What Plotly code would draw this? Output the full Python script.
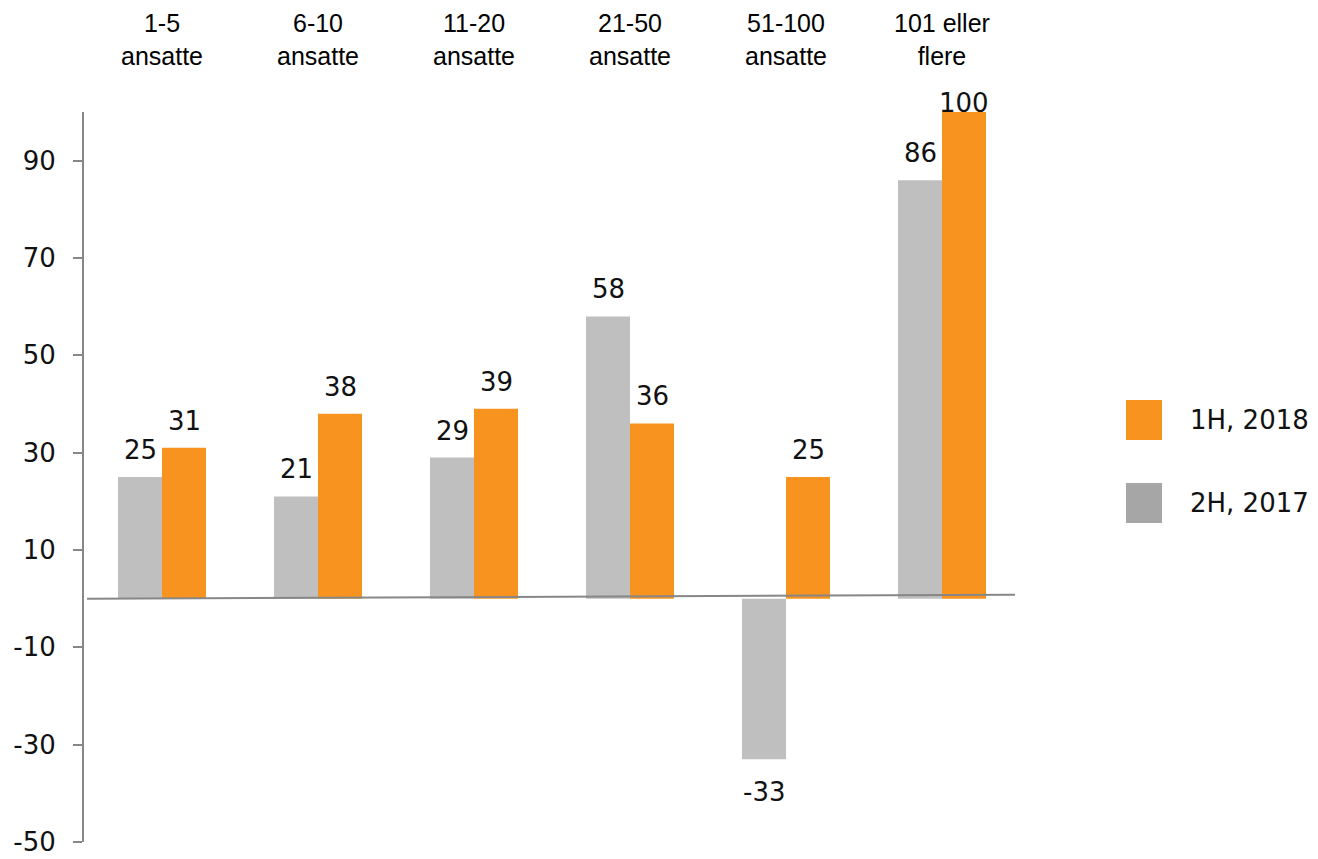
import plotly.graph_objects as go

categories = ["1-5<br>ansatte", "6-10<br>ansatte", "11-20<br>ansatte", "21-50<br>ansatte", "51-100<br>ansatte", "101 eller<br>flere"]
h2_2017 = [25, 21, 29, 58, -33, 86]
h1_2018 = [31, 38, 39, 36, 25, 100]
series_names = ["1H, 2018", "2H, 2017"]
y_ticks = [90, 70, 50, 30, 10, -10, -30, -50]
y_ticktext = ["90", "70", "50", "30", "10", "-10", "-30", "-50"]

ORANGE = "#F7931E"
GRAY_BAR = "#BFBFBF"
GRAY_LEG = "#A6A6A6"
AXIS = "#878787"
NUMFONT = "DejaVu Sans"
CATFONT = "Liberation Sans"

# the page body adds an 8 px margin; the figure is sized to fit the viewport
OFF = 8
W, H = 1318 - OFF, 859 - OFF
L, T = 84 - OFF, 112 - OFF
PW, PH = 936, 730
BOTTOM = 112 + PH  # page y of the plot bottom

x_idx = list(range(len(categories)))

fig = go.Figure()
fig.add_trace(go.Bar(x=x_idx, y=h2_2017, marker_color=GRAY_BAR, name=series_names[1],
                     marker_line_width=0, showlegend=False))
fig.add_trace(go.Bar(x=x_idx, y=h1_2018, marker_color=ORANGE, name=series_names[0],
                     marker_line_width=0, showlegend=False))

ann = []
ymax = 100
numfont = dict(family=NUMFONT, size=26, color="#111")
for i, (a, b) in enumerate(zip(h2_2017, h1_2018)):
    for v, xs in ((a, -22), (b, 22)):
        if v >= 0:
            shift = -8 if v >= ymax else 10
            ann.append(dict(x=i, y=v, xref="x", yref="y", xshift=xs, yshift=shift,
                            yanchor="bottom", text=str(v), showarrow=False, font=numfont))
        else:
            ann.append(dict(x=i, y=v, xref="x", yref="y", xshift=xs, yshift=-16,
                            yanchor="top", text=str(v), showarrow=False, font=numfont))
    ann.append(dict(x=i, y=1, xref="x", yref="paper", yshift=73, yanchor="middle",
                    text=categories[i], showarrow=False,
                    font=dict(family=CATFONT, size=25, color="#000")))

# legend (manual), reference pixel coords converted to paper coords
def px(xp):
    return (xp - 84) / PW

def py(yp):
    return (BOTTOM - yp) / PH

shapes = []
leg_colors = [ORANGE, GRAY_LEG]
for k, (nm, col) in enumerate(zip(series_names, leg_colors)):
    yc = 420 + k * 83
    shapes.append(dict(type="rect", xref="paper", yref="paper",
                       x0=px(1126), x1=px(1162), y0=py(yc + 20), y1=py(yc - 20),
                       fillcolor=col, line_width=0))
    ann.append(dict(x=px(1188), y=py(yc), xref="paper", yref="paper",
                    xanchor="left", yanchor="middle", text=nm, showarrow=False, font=numfont))

# zero line (slightly tilted as in reference)
shapes.append(dict(type="line", xref="paper", yref="y", x0=px(87), x1=px(1015),
                   y0=0, y1=0.8, line=dict(color=AXIS, width=2)))

fig.update_layout(
    width=W, height=H,
    margin=dict(l=L, r=W - L - PW, t=T, b=H - T - PH, autoexpand=False),
    plot_bgcolor="white", paper_bgcolor="white",
    barmode="group", bargap=0.436, bargroupgap=0,
    annotations=ann, shapes=shapes,
    xaxis=dict(range=[-0.5, 5.5], showticklabels=False, showgrid=False, zeroline=False,
               showline=False, ticks="", automargin=False),
    yaxis=dict(range=[-50, 100], tickvals=y_ticks, ticktext=y_ticktext, showgrid=False,
               zeroline=False, showline=True, linecolor=AXIS, linewidth=2, ticks="outside",
               ticklen=9, tickcolor=AXIS, tickwidth=2, ticklabelstandoff=12,
               ticklabeloverflow="allow", tickfont=numfont, automargin=False),
    showlegend=False,
)

fig.write_html("out.html")
